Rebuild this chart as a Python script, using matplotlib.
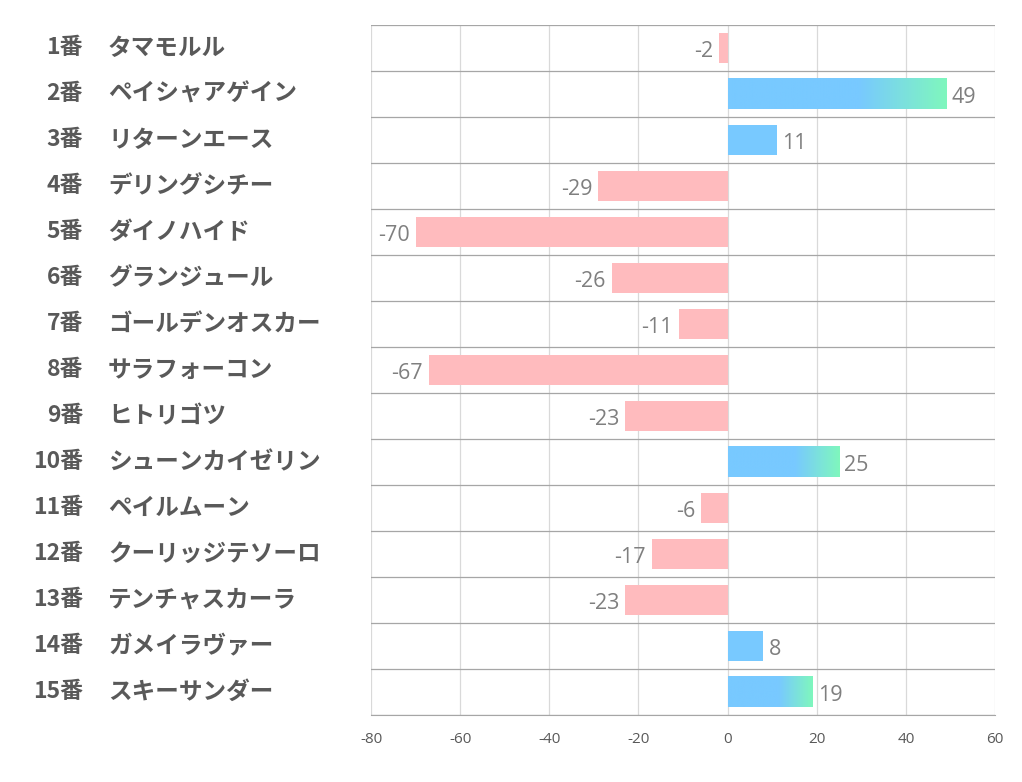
import numpy as np
import matplotlib.pyplot as plt
from matplotlib.colors import LinearSegmentedColormap

plt.rcParams['font.family'] = ['Noto Sans CJK JP', 'DejaVu Sans']

numbers = ['1番', '2番', '3番', '4番', '5番', '6番', '7番', '8番',
           '9番', '10番', '11番', '12番', '13番', '14番', '15番']
names = ['タマモルル', 'ペイシャアゲイン', 'リターンエース', 'デリングシチー',
         'ダイノハイド', 'グランジュール', 'ゴールデンオスカー', 'サラフォーコン',
         'ヒトリゴツ', 'シューンカイゼリン', 'ペイルムーン', 'クーリッジテソーロ',
         'テンチャスカーラ', 'ガメイラヴァー', 'スキーサンダー']
values = [-2, 49, 11, -29, -70, -26, -11, -67, -23, 25, -6, -17, -23, 8, 19]
xticks = [-80, -60, -40, -20, 0, 20, 40, 60]

BLUE = '#78C9FF'
GREEN = '#7FF7BD'
PINK = '#FFBBBE'
TEXT = '#595959'
VALTEXT = '#7F7F7F'
NUMFONT = ['Open Sans', 'DejaVu Sans']

fig = plt.figure(figsize=(10.22, 7.82), dpi=100)
ax = fig.add_axes([371 / 1022, 1 - 715 / 782, 624 / 1022, 690 / 782])

n = len(values)
ypos = np.arange(n)
bar_h = 0.66
cmap = LinearSegmentedColormap.from_list('bg', [(0, BLUE), (0.6, BLUE), (1, GREEN)])

for y, v in zip(ypos, values):
    if v < 0:
        ax.barh(y, v, height=bar_h, color=PINK, zorder=2)
        ax.text(v - 1.3, y + 0.08, str(v), ha='right', va='center', fontsize=15.5,
                color=VALTEXT, family=NUMFONT)
    else:
        # longer bars fade from blue into green towards the end
        if v > 15:
            grad = np.linspace(0, 1, 256).reshape(1, -1)
            ax.imshow(grad, cmap=cmap, aspect='auto', zorder=2,
                      extent=[0, v, y + bar_h / 2, y - bar_h / 2])
        else:
            ax.barh(y, v, height=bar_h, color=BLUE, zorder=2)
        ax.text(v + 1.2, y + 0.08, str(v), ha='left', va='center', fontsize=15.5,
                color=VALTEXT, family=NUMFONT)

ax.set_xlim(-80, 60)
ax.set_ylim(n - 0.5, -0.5)
ax.set_xticks(xticks)
ax.set_xticklabels([str(t) for t in xticks], fontsize=11, color=TEXT, family=NUMFONT)
ax.tick_params(axis='x', length=0, pad=12)
ax.set_yticks([])
ax.set_aspect('auto')

for t in xticks:
    ax.axvline(t, color='#D9D9D9', lw=0.9, zorder=1)
for b in np.arange(n + 1) - 0.5:
    ax.axhline(b, color='#A6A6A6', lw=0.9, zorder=1)

for s in ['top', 'left', 'right']:
    ax.spines[s].set_visible(False)
ax.spines['bottom'].set_color('#A6A6A6')

for y, num, name in zip(ypos, numbers, names):
    ax.annotate(num, xy=(0, y), xycoords=('figure pixels', 'data'),
                xytext=(83, 0), textcoords=('figure pixels', 'offset pixels'),
                ha='right', va='center', fontsize=16.5, fontweight='bold', color=TEXT)
    ax.annotate(name, xy=(0, y), xycoords=('figure pixels', 'data'),
                xytext=(108, 0), textcoords=('figure pixels', 'offset pixels'),
                ha='left', va='center', fontsize=17, fontweight='bold', color=TEXT)

fig.savefig('out.png', dpi=100)
